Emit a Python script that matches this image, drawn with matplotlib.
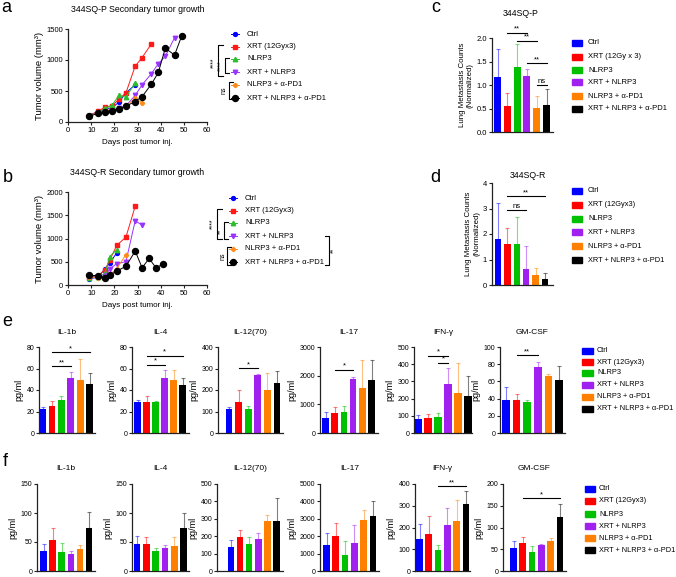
import numpy as np
import matplotlib
matplotlib.use('Agg')
import matplotlib.pyplot as plt
from matplotlib.patches import Rectangle

plt.rcParams['font.family'] = ['Liberation Sans', 'DejaVu Sans']
plt.rcParams['font.size'] = 6

# ---- data ----
groups = ['Ctrl', 'XRT (12Gyx3)', 'NLRP3', 'XRT + NLRP3', 'NLRP3 + α-PD1', 'XRT + NLRP3 + α-PD1']
groups_c = ['Ctrl', 'XRT (12Gy x 3)', 'NLRP3', 'XRT + NLRP3', 'NLRP3 + α-PD1', 'XRT + NLRP3 + α-PD1']

# panel a: 344SQ-P tumor growth (days, volume)
a_days = [
    [9, 13, 16, 19, 22, 25, 29],
    [9, 13, 16, 19, 22, 25, 29, 32, 36],
    [9, 13, 16, 19, 22, 25, 29],
    [9, 13, 16, 19, 22, 25, 29, 32, 36, 39, 42, 46],
    [9, 13, 16, 19, 22, 25, 29, 32],
    [9, 13, 16, 19, 22, 25, 29, 32, 36, 39, 42, 46, 49],
]
a_vol = [
    [100, 170, 210, 230, 320, 470, 600],
    [100, 175, 240, 260, 370, 470, 900, 1040, 1260],
    [100, 160, 220, 270, 430, 400, 630],
    [100, 150, 165, 185, 230, 260, 430, 600, 780, 940, 1060, 1360],
    [100, 140, 170, 190, 210, 260, 380, 310],
    [90, 140, 165, 185, 215, 255, 330, 410, 610, 800, 1190, 1080, 1380],
]
# panel b: 344SQ-R tumor growth
b_days = [
    [9, 13, 16, 18, 21],
    [9, 13, 16, 18, 21, 25, 29],
    [9, 13, 16, 18, 21],
    [9, 13, 16, 18, 21, 25, 29, 32],
    [9, 13, 16, 18, 21, 25],
    [9, 13, 16, 18, 21, 25, 29, 32, 35, 38, 41],
]
b_vol = [
    [130, 170, 350, 470, 690],
    [170, 200, 330, 530, 850, 1030, 1690],
    [150, 170, 250, 610, 760],
    [180, 170, 200, 340, 460, 500, 1380, 1290],
    [170, 160, 140, 220, 350, 650],
    [210, 200, 160, 210, 300, 400, 730, 370, 570, 370, 450],
]

# panels c, d: lung metastasis (mean, sem)
c_mean = [1.17, 0.55, 1.38, 1.20, 0.51, 0.58]
c_sem = [0.60, 0.27, 0.50, 0.15, 0.25, 0.34]
d_mean = [1.81, 1.61, 1.61, 0.61, 0.40, 0.24]
d_sem = [1.39, 0.63, 1.07, 0.92, 0.27, 0.23]
c_sig = [(1, 3, 2.11, '**'), (2, 4, 1.94, '**'), (3, 5, 1.46, '**'), (4, 5, 1.01, 'ns')]
d_sig = [(1, 5, 3.48, '**'), (1, 3, 2.93, 'ns')]

cytokines = ['IL-1b', 'IL-4', 'IL-12(70)', 'IL-17', 'IFN-γ', 'GM-CSF']
e_mean = [
    [22, 25.5, 31, 51.5, 49, 46],
    [29, 28.5, 29, 51, 49, 44.5],
    [111, 146, 110, 268, 198, 232],
    [530, 700, 750, 1880, 1580, 1850],
    [80, 88, 92, 283, 235, 215],
    [38.5, 38.5, 36.5, 77, 66, 61.5],
]
e_sem = [
    [2, 4, 3, 5.5, 20, 10],
    [1.5, 5.5, 0.5, 8, 10, 6.5],
    [9, 53, 14, 8, 83, 57],
    [200, 200, 180, 80, 970, 700],
    [25, 20, 25, 94, 172, 115],
    [14.5, 6.5, 1.5, 6, 3, 16],
]
e_ymax = [80, 80, 400, 3000, 500, 100]
e_ystep = [20, 20, 100, 1000, 100, 20]
e_sig = [
    [(1, 5, 75, '*'), (1, 3, 62, '**')],
    [(1, 5, 72, '*'), (1, 3, 63.7, '*')],
    [(1, 3, 301, '*')],
    [(1, 3, 2210, '*')],
    [(1, 3, 450, '*'), (2, 3, 409, '*')],
    [(1, 3, 90.4, '**')],
]
f_mean = [
    [35, 53, 33, 30, 38, 74],
    [47, 46, 34, 40, 43, 75],
    [138, 193, 157, 183, 285, 290],
    [1500, 2020, 900, 1630, 2920, 3170],
    [147, 168, 95, 213, 228, 308],
    [54, 65, 43, 59, 68, 125],
]
f_sem = [
    [11, 21, 15, 4, 6, 27],
    [13, 12, 5, 4, 15, 25],
    [40, 40, 41, 35, 35, 130],
    [700, 710, 810, 1000, 560, 830],
    [71, 85, 24, 77, 100, 59],
    [14, 14, 14, 2, 9, 28],
]
f_ymax = [150, 150, 500, 5000, 400, 200]
f_ystep = [50, 50, 100, 1000, 100, 50]
f_sig = [[], [], [], [], [(2, 5, 390, '**')], [(1, 5, 168, '*')]]

line_colors = ['#0000ff', '#ff1a1a', '#2ebd2e', '#9933ff', '#ff8c1a', '#000000']
markers = ['o', 's', '^', 'v', 'P', 'o']
msizes = [2.8, 3.2, 3.2, 3.2, 2.8, 4.3]
bar_colors = ['#0000ff', '#ff0000', '#00c000', '#a020f0', '#ff8000', '#000000']

W, H = 676, 577
fig = plt.figure(figsize=(W / 100, H / 100), dpi=100)


def px_axes(left, top, right, bottom):
    return fig.add_axes([left / W, 1 - bottom / H, (right - left) / W, (bottom - top) / H])


def prism(ax, labelsize=5.5):
    for s in ['top', 'right']:
        ax.spines[s].set_visible(False)
    for s in ['left', 'bottom']:
        ax.spines[s].set_linewidth(0.9)
        ax.spines[s].set_color('#222222')
    ax.tick_params(length=2.5, width=0.8, labelsize=labelsize, pad=1, color='#222222')


def growth_panel(rect, title, days, vols, ymax, ystep):
    ax = px_axes(*rect)
    for i in range(6):
        ax.plot(days[i], vols[i], color=line_colors[i], lw=0.7, marker=markers[i],
                ms=msizes[i], mec=line_colors[i], clip_on=False)
    ax.set_xlim(0, 60)
    ax.set_ylim(0, ymax)
    ax.set_xticks(range(0, 61, 10))
    ax.set_yticks(range(0, ymax + 1, ystep))
    prism(ax)
    ax.set_ylabel('Tumor volume (mm³)', fontsize=6.8, labelpad=2)
    ax.set_xlabel('Days post tumor inj.', fontsize=5.8, labelpad=4)
    ax.set_title(title, fontsize=6.3, pad=12)
    return ax


def bar_panel(rect, centers, means, sems, ymax, ystep, sigs, ylabel='pg/ml',
              title=None, width=0.72, labelsize=5, ylabelsize=6.5):
    left, top, right, bottom = rect
    ax = px_axes(*rect)
    sp = (centers[1] - centers[0]) / 5
    x = np.arange(6)
    ax.bar(x, means, width=width, color=bar_colors, zorder=2)
    for i in range(6):
        ax.errorbar(i, means[i], yerr=[[0], [sems[i]]], fmt='none', ecolor=bar_colors[i],
                    alpha=0.5, capsize=1.3, elinewidth=0.8, capthick=0.8, zorder=1)
    ax.set_xlim((left - centers[0]) / sp, 5 + (right - centers[1]) / sp)
    ax.set_ylim(0, ymax)
    ax.set_yticks(np.arange(0, ymax + ystep / 2, ystep))
    ax.set_xticks([])
    prism(ax, labelsize)
    ax.set_ylabel(ylabel, fontsize=ylabelsize, labelpad=2)
    for i, j, y, lab in sigs:
        ax.plot([i, j], [y, y], color='k', lw=0.8, clip_on=False)
        ax.text((i + j) / 2, y, lab, ha='center', va='bottom', fontsize=5.5)
    if title:
        ax.annotate(title, xy=(0.5, 1), xycoords='axes fraction', xytext=(0, 15),
                    textcoords='offset pixels', ha='center', va='center', fontsize=6)
    return ax


# a, b
growth_panel((68, 29, 207, 122), '344SQ-P Secondary tumor growth', a_days, a_vol, 1500, 500)
growth_panel((68, 192, 207, 285), '344SQ-R Secondary tumor growth', b_days, b_vol, 2000, 500)

# c, d
axc = bar_panel((492, 38, 553, 132), (497.5, 546.5), c_mean, c_sem, 2.0, 0.5, c_sig,
                ylabel='Lung Metastasis Counts\n(Normalized)', width=0.7, labelsize=5.5,
                ylabelsize=5.7)
axc.yaxis.set_major_formatter(matplotlib.ticker.FormatStrFormatter('%.1f'))
axd = bar_panel((492, 183, 553, 285), (498, 545), d_mean, d_sem, 4, 1, d_sig,
                ylabel='Lung Metastasis Counts\n(Normalized)', width=0.7, labelsize=5.5,
                ylabelsize=5.7)

# e, f
e_geo = [(39, 95, 42.7, 89.5), (132, 189, 137.5, 182.5), (218, 283, 229, 277),
         (320, 378, 325.5, 371.5), (414, 472, 418, 468), (500, 565, 506, 559)]
f_geo = [(37, 95, 43.5, 89), (132, 189, 137, 183.5), (217, 283, 231, 276.5),
         (320, 379, 326.5, 373), (415, 470, 419.5, 466), (503, 566, 513.5, 560)]
for k in range(6):
    l, r, c0, c5 = e_geo[k]
    bar_panel((l, 347, r, 433), (c0, c5), e_mean[k], e_sem[k], e_ymax[k], e_ystep[k],
              e_sig[k], title=cytokines[k])
    l, r, c0, c5 = f_geo[k]
    bar_panel((l, 484, r, 571), (c0, c5), f_mean[k], f_sem[k], f_ymax[k], f_ystep[k],
              f_sig[k], title=cytokines[k])

# overlay in pixel coordinates for legends, brackets and panel letters
ov = fig.add_axes([0, 0, 1, 1], zorder=10)
ov.set_xlim(0, W)
ov.set_ylim(H, 0)
ov.axis('off')

for lab, (x, y) in zip('abcdef', [(6, 7), (8, 177), (436, 8), (435, 177), (7, 322), (5, 461)]):
    ov.text(x, y, lab, fontsize=13, ha='center', va='center')

ov.text(521, 14, '344SQ-P', fontsize=6.3, ha='center', va='center')
ov.text(528, 175, '344SQ-R', fontsize=6.3, ha='center', va='center')


def line_legend(xm, xt, ys):
    for i, y in enumerate(ys):
        ov.plot([xm - 4, xm + 4], [y, y], color=line_colors[i], lw=0.7)
        ov.plot(xm, y, marker=markers[i], ms=msizes[i], color=line_colors[i])
        ov.text(xt, y, groups[i], fontsize=5.5, va='center', ha='left')


def box_legend(x0, x1, xt, ys, names, fs=5.5):
    for i, y in enumerate(ys):
        ov.add_patch(Rectangle((x0, y - 3), x1 - x0, 6, color=bar_colors[i]))
        ov.text(xt, y, names[i], fontsize=fs, va='center', ha='left')


def bracket(x, y0, y1, arm):
    ov.plot([x + arm, x, x, x + arm], [y0, y0, y1, y1], color='k', lw=0.8)


def vtext(x, y, s):
    ov.text(x, y, s, fontsize=5, rotation=90, ha='center', va='center')


line_legend(235, 247, [34, 47, 59, 72, 85, 98])
bracket(218, 45, 76, 5)
bracket(225, 58, 73, 4)
bracket(229, 82, 99, 4)
vtext(213.5, 63, '****')
vtext(221, 66, '****')
vtext(224.5, 90, 'ns')

line_legend(233, 245, [198, 211, 223, 236, 249, 262])
bracket(217, 209, 239, 5)
bracket(224, 222, 239, 4)
bracket(227, 247, 265, 4)
bracket(329, 236, 265, -4)
vtext(213, 224, '****')
vtext(220.5, 231, '**')
vtext(223, 256, 'ns')
vtext(333.5, 250, '**')

box_legend(572, 582, 588, [43, 57, 70, 82, 96, 109], groups_c)
box_legend(572, 582, 588, [191, 205, 219, 232, 246, 260], groups, fs=5.3)
box_legend(582, 593, 597, [351, 362, 373, 385, 397, 409], groups, fs=5.3)
box_legend(585, 595, 599, [489, 501, 514, 526, 538, 550], groups, fs=5.3)

fig.savefig('out.png', dpi=100)
